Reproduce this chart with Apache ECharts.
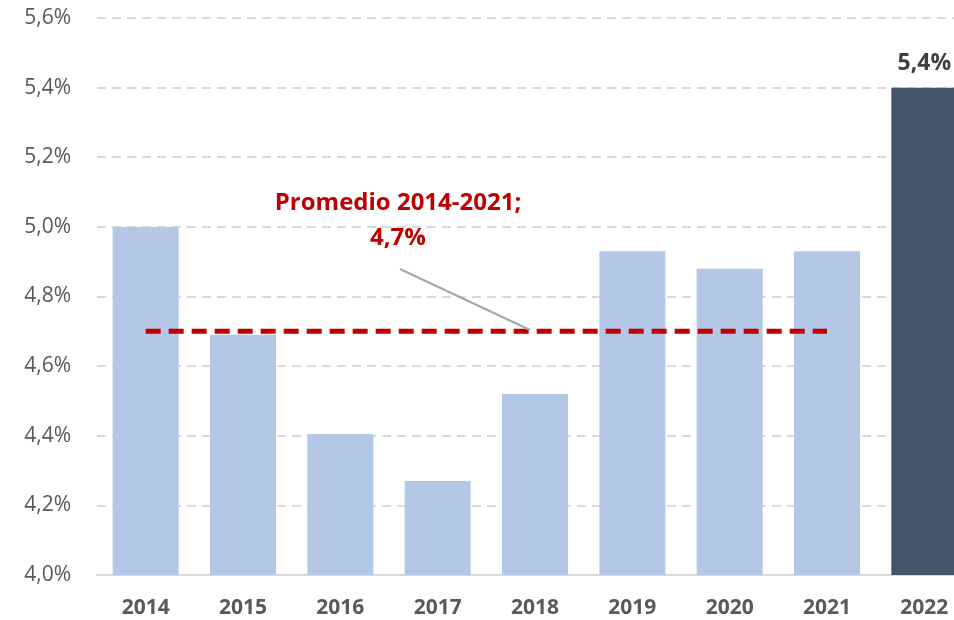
<!DOCTYPE html>
<html>
<head>
<meta charset="utf-8">
<script src="https://cdn.jsdelivr.net/npm/echarts@6/dist/echarts.min.js"></script>
<style>
  html, body { margin: 0; padding: 0; background: #fff; }
  #chart { width: 954px; height: 620px; }
</style>
</head>
<body>
<div id="chart"></div>
<script>
// datos
var years = ['2014', '2015', '2016', '2017', '2018', '2019', '2020', '2021', '2022'];
var values = [5.00, 4.69, 4.405, 4.27, 4.52, 4.93, 4.88, 4.93, 5.40];
var avgYears = ['2014', '2015', '2016', '2017', '2018', '2019', '2020', '2021'];
var avgValue = 4.70;
var avgLabel = ['Promedio 2014-2021;', '4,7%'];

var FONT = '"Open Sans", "Noto Sans", sans-serif';

function pct(v) {
  return v.toFixed(1).replace('.', ',') + '%';
}

function run() {
  var chart = echarts.init(document.getElementById('chart'));

  var barData = values.map(function (v, i) {
    var last = i === values.length - 1;
    return {
      value: v,
      itemStyle: { color: last ? '#44546a' : '#b4c7e7' },
      label: {
        show: last,
        position: 'top',
        distance: 13,
        formatter: function (p) { return pct(p.value); },
        color: '#404040',
        fontWeight: 'bold',
        fontSize: 23,
        fontFamily: FONT
      }
    };
  });

  var avgData = years.map(function (y) {
    return avgYears.indexOf(y) >= 0 ? avgValue : null;
  });

  var option = {
    animation: false,
    grid: { left: 97, top: 18, width: 876, height: 557, outerBoundsMode: 'none', containLabel: false },
    xAxis: {
      type: 'category',
      data: years,
      axisTick: { show: false },
      axisLine: { lineStyle: { color: '#d9d9d9', width: 2 } },
      axisLabel: {
        margin: 23,
        color: '#595959',
        fontWeight: 'bold',
        fontSize: 21,
        fontFamily: FONT
      }
    },
    yAxis: {
      type: 'value',
      min: 4.0,
      max: 5.6,
      interval: 0.2,
      axisLine: { show: false },
      axisTick: { show: false },
      axisLabel: {
        margin: 26,
        color: '#595959',
        fontSize: 21,
        fontFamily: FONT,
        formatter: pct
      },
      splitLine: { lineStyle: { color: '#d9d9d9', width: 2, type: [9, 6] } }
    },
    series: [
      {
        type: 'bar',
        data: barData,
        barWidth: 66
      },
      {
        type: 'line',
        data: avgData,
        symbol: 'none',
        z: 5,
        lineStyle: { color: '#c00000', width: 5, type: [15, 8] }
      }
    ],
    graphic: [
      {
        type: 'line',
        shape: { x1: 400, y1: 269, x2: 530, y2: 330 },
        style: { stroke: '#a6a6a6', lineWidth: 2 },
        z: 10
      },
      {
        type: 'text',
        x: 398,
        y: 186,
        style: {
          text: avgLabel.join('\n'),
          fill: '#c00000',
          font: 'bold 24px ' + FONT,
          align: 'center',
          lineHeight: 35
        }
      }
    ]
  };

  chart.setOption(option);
}

if (document.readyState !== 'loading') {
  run();
} else {
  document.addEventListener('DOMContentLoaded', run);
}
</script>
</body>
</html>
